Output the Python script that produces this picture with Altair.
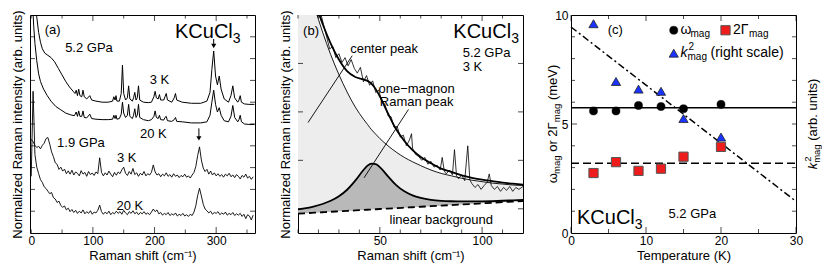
import altair as alt
import pandas as pd

FONT = "Liberation Sans"
W, H = 225, 218

# ---------------- panel (a): Raman spectra ----------------
a_grid = list(range(0, 361, 3))
a_19GPa_3K = [4.30, 4.18, 4.02, 3.92, 3.98, 3.86, 4.02, 4.12, 4.33, 4.38, 4.08, 3.72, 3.50, 3.22, 3.15, 2.92,
              3.02, 2.84, 2.93, 2.72, 2.85, 2.70, 2.88, 2.66, 2.80, 2.74, 2.62, 2.86, 2.70, 2.78, 2.60, 2.82,
              2.68, 2.75, 2.64, 2.80, 2.72, 3.45, 2.78, 2.62, 2.76, 2.66, 2.84, 2.70, 2.58, 2.78, 2.65, 2.80,
              2.72, 2.90, 3.02, 2.74, 2.64, 2.82, 2.70, 2.96, 2.68, 2.76, 2.60, 2.74, 2.66, 2.82, 2.62, 2.72,
              2.66, 2.78, 3.12, 2.80, 2.66, 2.72, 2.58, 2.70, 2.62, 2.76, 2.60, 2.68, 2.56, 2.72, 2.60, 2.66,
              2.54, 2.64, 2.58, 2.70, 2.56, 2.62, 2.52, 2.66, 2.78, 3.05, 3.55, 3.95, 3.35, 2.98, 2.82, 2.92,
              2.70, 2.84, 2.66, 2.76, 2.62, 2.72, 2.60, 2.68, 2.56, 2.70, 2.62, 2.74, 2.58, 2.66, 2.54, 2.68,
              2.60, 2.48, 2.64, 2.56, 2.70, 2.52, 2.60, 2.46, 2.58]
a_19GPa_20K = [2.60, 6.50, 3.60, 3.02, 2.72, 2.45, 2.32, 2.12, 2.04, 1.92, 1.80, 1.86, 1.62, 1.56, 1.40, 1.46,
               1.26, 1.18, 1.24, 1.06, 1.14, 0.98, 1.08, 0.94, 1.04, 0.90, 1.00, 0.92, 1.06, 0.88, 0.98, 0.90,
               1.02, 0.86, 0.96, 0.92, 1.04, 1.28, 0.98, 0.86, 0.96, 0.88, 1.00, 0.84, 0.94, 0.88, 1.00, 0.90,
               0.98, 0.86, 1.04, 0.92, 0.84, 0.98, 0.90, 1.02, 0.88, 0.96, 0.84, 0.94, 0.88, 0.98, 0.86, 0.92,
               0.84, 0.96, 1.10, 0.98, 1.06, 0.88, 0.94, 0.82, 0.90, 0.84, 0.94, 0.80, 0.88, 0.82, 0.92, 0.78,
               0.86, 0.80, 0.90, 0.78, 0.84, 0.76, 0.86, 0.80, 0.96, 1.25, 1.72, 2.05, 1.70, 1.32, 1.10, 1.02,
               0.92, 1.00, 0.86, 0.94, 0.90, 0.98, 0.84, 0.92, 0.86, 0.96, 0.82, 0.90, 0.84, 0.94, 0.80, 0.88,
               0.82, 0.90, 0.76, 0.86, 0.66, 0.84, 0.78, 0.60, 0.82]
a_52GPa_3K_x = [6, 9, 12, 15, 18, 22, 27, 32, 38, 44, 50, 56, 62, 68, 71, 73, 75, 77, 79, 82, 84, 86, 90, 95, 98,
                105, 115, 125, 132, 134, 136, 137.5, 139, 143, 146, 148, 150, 153, 156, 158, 160, 164, 166, 168,
                170, 172, 174, 176, 182, 190, 195, 199, 201, 203, 206, 208, 210, 215, 217, 219, 221, 228, 232,
                234, 236, 245, 260, 275, 285, 290, 293, 296, 299, 302, 305, 308, 313, 320, 324, 327, 330, 335,
                337, 339, 341, 346, 353, 362]
a_52GPa_3K = [10.6, 9.9, 9.2, 8.75, 8.45, 8.25, 8.15, 8.05, 7.85, 7.55, 7.25, 6.95, 6.7, 6.5, 6.4, 6.55, 6.3,
              6.6, 6.3, 6.25, 6.55, 6.25, 6.15, 6.3, 6.1, 6.05, 6.0, 6.0, 6.05, 6.25, 6.1, 6.3, 6.05, 6.05, 6.4,
              7.7, 6.4, 6.1, 6.2, 6.75, 6.15, 6.05, 6.2, 6.45, 6.1, 6.2, 6.75, 6.1, 6.0, 5.98, 6.0, 6.25, 6.5,
              6.2, 6.15, 6.35, 6.1, 6.1, 6.25, 6.4, 6.1, 6.0, 6.2, 6.4, 6.1, 6.0, 5.95, 5.95, 6.05, 6.45, 7.5,
              8.35, 7.2, 6.8, 7.2, 6.6, 6.15, 6.0, 6.3, 6.75, 6.2, 6.0, 6.1, 6.3, 6.0, 5.92, 5.9, 5.9]
a_52GPa_20K_x = [2, 4, 6, 9, 12, 15, 20, 26, 32, 40, 48, 56, 64, 70, 73, 75, 77, 79, 82, 84, 86, 90, 95, 98,
                 105, 115, 125, 132, 134, 136, 137.5, 139, 143, 146, 148, 150, 153, 156, 158, 160, 164, 166, 168,
                 170, 172, 174, 176, 182, 190, 195, 199, 201, 203, 206, 208, 210, 215, 217, 219, 221, 228, 232,
                 234, 236, 245, 260, 275, 285, 290, 293, 296, 299, 302, 305, 308, 313, 320, 324, 327, 330, 335,
                 337, 339, 341, 346, 353, 362]
a_52GPa_20K = [10.6, 9.5, 8.7, 7.9, 7.3, 6.95, 6.6, 6.3, 6.05, 5.8, 5.65, 5.5, 5.42, 5.38, 5.55, 5.35, 5.6,
               5.35, 5.35, 5.6, 5.3, 5.28, 5.45, 5.25, 5.22, 5.2, 5.2, 5.22, 5.4, 5.25, 5.4, 5.22, 5.25, 5.45,
               6.0, 5.5, 5.3, 5.4, 5.9, 5.35, 5.25, 5.4, 5.7, 5.3, 5.4, 5.9, 5.3, 5.2, 5.15, 5.2, 5.35, 5.6,
               5.3, 5.25, 5.4, 5.2, 5.18, 5.3, 5.35, 5.15, 5.12, 5.2, 5.3, 5.12, 5.1, 5.05, 5.05, 5.1, 5.4, 6.0,
               6.55, 5.9, 5.55, 5.75, 5.4, 5.15, 5.1, 5.35, 5.85, 5.3, 5.1, 5.2, 5.4, 5.1, 5.0, 4.98, 4.98]

# ---------------- panel (b): fit of the 5.2 GPa, 3 K spectrum ----------------
b_fit_x = [10, 14, 18, 22, 26, 30, 34, 38, 42, 44, 46, 48, 50, 54, 58, 62, 66, 70, 75, 80, 85, 90, 95, 100,
           105, 110, 115, 120]
b_background = [0.400, 0.409, 0.419, 0.428, 0.438, 0.447, 0.457, 0.466, 0.476, 0.480, 0.485, 0.490, 0.495,
                0.504, 0.513, 0.523, 0.532, 0.542, 0.553, 0.565, 0.577, 0.589, 0.600, 0.612, 0.624, 0.636,
                0.648, 0.660]
b_center_peak = [5.69, 5.20, 4.67, 4.15, 3.68, 3.27, 2.91, 2.60, 2.35, 2.24, 2.13, 2.04, 1.95, 1.80, 1.67,
                 1.56, 1.47, 1.39, 1.30, 1.23, 1.18, 1.13, 1.09, 1.06, 1.03, 1.01, 0.99, 0.98]
b_magnon_peak = [0.486, 0.515, 0.552, 0.599, 0.665, 0.758, 0.893, 1.08, 1.30, 1.39, 1.43, 1.42, 1.36, 1.17,
                 0.988, 0.860, 0.777, 0.726, 0.686, 0.665, 0.655, 0.651, 0.651, 0.654, 0.659, 0.666, 0.674,
                 0.683]
b_total_fit = [5.78, 5.30, 4.80, 4.32, 3.91, 3.58, 3.34, 3.22, 3.17, 3.14, 3.08, 2.97, 2.82, 2.47, 2.14, 1.90,
               1.71, 1.57, 1.44, 1.33, 1.26, 1.19, 1.14, 1.10, 1.07, 1.04, 1.02, 1.00]
b_data_x = [21, 22.5, 24, 25.5, 27, 28.5, 30, 31.5, 33, 34.5, 36, 37.5, 39, 40.5, 42, 43.5, 45, 46.5, 48, 49.5,
            51, 52.5, 54, 55.5, 57, 58.5, 60, 61.5, 63, 64.5, 65.5, 66, 67.5, 69, 70.5, 72, 73.5, 75, 76.5, 78,
            79.5, 80.5, 81.5, 82.5, 84, 85.5, 86.5, 87.5, 88.5, 90, 91.5, 93, 94, 95, 96.5, 98, 99.5, 101,
            102.5, 103.5, 104.5, 106, 107.5, 109, 110.5, 112, 113.5, 115, 116.5, 118, 120]
b_data_y = [4.55, 4.30, 4.05, 3.80, 3.85, 3.62, 3.70, 3.52, 3.62, 3.45, 3.58, 3.40, 3.30, 3.42, 3.12, 3.25,
            3.05, 3.14, 2.90, 2.95, 2.70, 2.66, 2.42, 2.40, 2.18, 2.20, 1.98, 2.02, 1.80, 1.92, 2.05, 1.75,
            1.62, 1.58, 1.50, 1.56, 1.42, 1.48, 1.36, 1.40, 1.30, 1.56, 1.28, 1.22, 1.30, 1.20, 1.72, 1.18,
            1.12, 1.20, 1.08, 1.80, 1.10, 1.02, 0.94, 1.00, 0.90, 0.98, 1.05, 1.22, 0.98, 0.90, 0.96, 0.86,
            0.94, 0.88, 0.96, 0.86, 0.94, 0.90, 0.96]

# ---------------- panel (c): temperature dependence ----------------
c_temperature = [3, 6, 9, 12, 15, 20]
c_omega_mag = [5.6, 5.6, 5.85, 5.8, 5.7, 5.9]
c_2gamma_mag = [2.75, 3.25, 2.85, 2.95, 3.5, 3.95]
c_k2_mag = [9.6, 6.95, 6.6, 6.5, 5.25, 4.4]
c_line_T = [0, 30]
c_omega_fit = [5.75, 5.75]
c_gamma_fit = [3.2, 3.2]
c_k2_fit = [9.45, 1.45]

# ---------------- helpers ----------------
CW = {'ω': 0.72, 'm': 0.833, 'a': 0.556, 'g': 0.556, 'o': 0.556, 'r': 0.333, '2': 0.556, 'Γ': 0.556,
      '(': 0.333, ')': 0.333, 'e': 0.556, 'V': 0.667, 'k': 0.5, 'b': 0.556, '.': 0.278, 'u': 0.556,
      'n': 0.556, 'i': 0.222, 't': 0.278, 's': 0.5, ' ': 0.278, 'K': 0.667, 'C': 0.722, 'l': 0.222}


def tw(s, size):
    return sum(CW.get(ch, 0.556) for ch in s) * size


class Panel:
    def __init__(self, xdom, ydom, xaxis, yaxis):
        self.xs = alt.Scale(domain=xdom, nice=False, zero=False)
        self.ys = alt.Scale(domain=ydom, nice=False, zero=False)
        self.xa = xaxis
        self.ya = yaxis

    def X(self, f):
        return alt.X(f, scale=self.xs, axis=self.xa)

    def Y(self, f):
        return alt.Y(f, scale=self.ys, axis=self.ya)

    def line(self, xs_, ys_, **kw):
        df = pd.DataFrame({"x": xs_, "y": ys_})
        return alt.Chart(df).mark_line(clip=True, color="black", **kw).encode(x=self.X("x:Q"), y=self.Y("y:Q"))

    def label(self, x, y, text, size=13, align="left", baseline="middle", dx=0, dy=0, italic=False):
        df = pd.DataFrame({"x": [x], "y": [y], "t": [text]})
        return alt.Chart(df).mark_text(font=FONT, fontSize=size, align=align, baseline=baseline, dx=dx, dy=dy,
                                       fontStyle="italic" if italic else "normal", color="black").encode(
            x=self.X("x:Q"), y=self.Y("y:Q"), text="t:N")

    def xticks(self, vals, length):
        df = pd.DataFrame({"v": vals})
        base = alt.Chart(df).mark_tick(orient="vertical", size=length, thickness=1, color="black")
        return [base.encode(x=self.X("v:Q"), y=alt.value(H - length / 2)),
                base.encode(x=self.X("v:Q"), y=alt.value(length / 2))]

    def yticks(self, vals, length, left=True, right=True):
        df = pd.DataFrame({"v": vals})
        base = alt.Chart(df).mark_tick(orient="horizontal", size=length, thickness=1, color="black")
        out = []
        if left:
            out.append(base.encode(y=self.Y("v:Q"), x=alt.value(length / 2)))
        if right:
            out.append(base.encode(y=self.Y("v:Q"), x=alt.value(W - length / 2)))
        return out

    def seg(self, x, y, x2, y2, width=1):
        df = pd.DataFrame({"x": [x], "y": [y], "x2": [x2], "y2": [y2]})
        return alt.Chart(df).mark_rule(color="black", strokeWidth=width).encode(
            x=self.X("x:Q"), y=self.Y("y:Q"), x2="x2:Q", y2="y2:Q")

    def arrow_head(self, x, y):
        df = pd.DataFrame({"x": [x], "y": [y]})
        return alt.Chart(df).mark_point(shape="triangle-down", filled=True, size=26, color="black",
                                        opacity=1).encode(x=self.X("x:Q"), y=self.Y("y:Q"))


def ptext(px, py, text, size=13, angle=0, italic=False, align="left", baseline="middle"):
    df = pd.DataFrame({"t": [text]})
    return alt.Chart(df).mark_text(font=FONT, fontSize=size, angle=angle, align=align, baseline=baseline,
                                   fontStyle="italic" if italic else "normal", color="black").encode(
        x=alt.value(px), y=alt.value(py), text="t:N")


YTITLE = "Normalized Raman intensity (arb. units)"
XTITLE = "Raman shift (cm⁻¹)"


def xaxis(vals, title):
    return alt.Axis(values=vals, title=title, labelFlush=False, labelPadding=2, titlePadding=3)


# ---------------- build panel (a) ----------------
pa = Panel([-2, 363], [0, 10], xaxis([0, 100, 200, 300], XTITLE),
           alt.Axis(labels=False, title=YTITLE, titlePadding=6))
a_layers = [pa.line(a_grid, a_19GPa_3K, strokeWidth=0.9),
            pa.line(a_grid, a_19GPa_20K, strokeWidth=0.9),
            pa.line(a_52GPa_3K_x, a_52GPa_3K, strokeWidth=1),
            pa.line(a_52GPa_20K_x, a_52GPa_20K, strokeWidth=1),
            pa.seg(296, 8.9, 296, 8.62), pa.arrow_head(296, 8.58),
            pa.seg(272, 4.8, 272, 4.38), pa.arrow_head(272, 4.34),
            pa.label(22, 9.3, "(a)"),
            pa.label(327, 8.95, "KCuCl", size=20, align="right", baseline="alphabetic"),
            pa.label(327, 8.95, "3", size=14, align="left", baseline="alphabetic", dy=5),
            pa.label(55, 8.5, "5.2 GPa"),
            pa.label(208, 7.0, "3 K", align="center"),
            pa.label(198, 4.55, "20 K", align="center"),
            pa.label(42, 4.15, "1.9 GPa"),
            pa.label(155, 3.45, "3 K", align="center"),
            pa.label(160, 1.25, "20 K", align="center")]
a_layers += pa.xticks([100, 200, 300], 6) + pa.xticks([0, 50, 150, 250, 350], 3.5)
a_layers += pa.yticks(list(range(1, 10)), 5)
panel_a = alt.layer(*a_layers).properties(width=W, height=H)

# ---------------- build panel (b) ----------------
pb = Panel([10, 120], [0, 4.5], xaxis([50, 100], XTITLE),
           alt.Axis(labels=False, title=YTITLE, titlePadding=6))
b_fit = pd.DataFrame({"x": b_fit_x, "bg": b_background, "cen": b_center_peak, "mag": b_magnon_peak,
                      "tot": b_total_fit})
b_light = alt.Chart(b_fit).mark_area(clip=True, color="#ededed", interpolate="monotone").encode(
    x=pb.X("x:Q"), y=pb.Y("cen:Q"), y2="bg:Q")
b_dark = alt.Chart(b_fit).mark_area(clip=True, color="#b9b9b9", interpolate="monotone").encode(
    x=pb.X("x:Q"), y=pb.Y("mag:Q"), y2="bg:Q")


def bcurve(field, **kw):
    return alt.Chart(b_fit).mark_line(clip=True, color="black", interpolate="monotone", **kw).encode(
        x=pb.X("x:Q"), y=pb.Y(field + ":Q"))


b_layers = [b_light, b_dark,
            bcurve("bg", strokeWidth=1.8, strokeDash=[7, 4]),
            bcurve("mag", strokeWidth=1.8),
            bcurve("cen", strokeWidth=0.9),
            pb.line(b_data_x, b_data_y, strokeWidth=0.8),
            bcurve("tot", strokeWidth=1.8),
            pb.seg(14.9, 2.28, 36.5, 3.66, 0.9),
            pb.seg(64, 2.55, 42.3, 1.14, 0.9),
            pb.label(12.5, 4.18, "(b)"),
            pb.label(114.2, 4.02, "KCuCl", size=20, align="right", baseline="alphabetic"),
            pb.label(114.2, 4.02, "3", size=14, align="left", baseline="alphabetic", dy=5),
            pb.label(90.5, 3.72, "5.2 GPa"),
            pb.label(90.5, 3.42, "3 K"),
            pb.label(35.5, 3.8, "center peak"),
            pb.label(68, 2.98, "one−magnon", align="center"),
            pb.label(68, 2.70, "Raman peak", align="center"),
            pb.label(80, 0.26, "linear background", align="center")]
b_layers += pb.xticks([50, 100], 6) + pb.xticks([10, 20, 30, 40, 60, 70, 80, 90, 110], 3.5)
b_layers += pb.yticks([0.5, 1.5, 2.5, 3.5], 5)
panel_b = alt.layer(*b_layers).properties(width=W, height=H)

# ---------------- build panel (c) ----------------
pc = Panel([0, 30], [0, 10], xaxis([0, 10, 20, 30], "Temperature (K)"),
           alt.Axis(values=[0, 5, 10], title=None, labelPadding=3))
c_df = pd.DataFrame({"T": c_temperature, "w": c_omega_mag, "g": c_2gamma_mag, "k": c_k2_mag})
c_fit = pd.DataFrame({"T": c_line_T, "w": c_omega_fit, "g": c_gamma_fit, "k": c_k2_fit})
c_wline = alt.Chart(c_fit).mark_line(color="black", strokeWidth=1.5).encode(x=pc.X("T:Q"), y=pc.Y("w:Q"))
c_gline = alt.Chart(c_fit).mark_line(color="black", strokeWidth=1.5, strokeDash=[8, 4]).encode(
    x=pc.X("T:Q"), y=pc.Y("g:Q"))
c_kline = alt.Chart(c_fit).mark_line(color="black", strokeWidth=1.5, strokeDash=[7, 3, 2, 3]).encode(
    x=pc.X("T:Q"), y=pc.Y("k:Q"))


def cpoints(df, field, shape, fill, stroke, size, sw):
    return alt.Chart(df).mark_point(shape=shape, filled=True, fill=fill, stroke=stroke, strokeWidth=sw,
                                    size=size, opacity=1).encode(x=pc.X("T:Q"), y=pc.Y(field + ":Q"))


leg = pd.DataFrame({"T": [13.7, 20.6, 13.7], "y": [9.3, 9.3, 8.25]})
c_layers = [c_wline, c_gline, c_kline,
            cpoints(c_df, "k", "triangle-up", "#1a33ff", "#222222", 85, 0.8),
            cpoints(c_df, "w", "circle", "black", "black", 65, 0.5),
            cpoints(c_df, "g", "square", "#ee1c1c", "#555555", 85, 1),
            cpoints(leg.iloc[[0]], "y", "circle", "black", "black", 65, 0.5),
            cpoints(leg.iloc[[1]], "y", "square", "#ee1c1c", "#555555", 85, 1),
            cpoints(leg.iloc[[2]], "y", "triangle-up", "#1a33ff", "#222222", 85, 0.8),
            pc.label(14.6, 9.3, "ω", size=14),
            pc.label(14.6, 9.3, "mag", size=10, dx=10, dy=4),
            pc.label(21.6, 9.3, "2Γ", size=14),
            pc.label(21.6, 9.3, "mag", size=10, dx=16, dy=4),
            pc.label(14.6, 8.25, "k", size=14, italic=True),
            pc.label(14.6, 8.25, "mag", size=10, dx=7, dy=4),
            pc.label(14.6, 8.25, "2", size=10, dx=8, dy=-6),
            pc.label(14.6, 8.25, "(right scale)", size=14, dx=30),
            pc.label(5.9, 9.3, "(c)", align="center"),
            pc.label(0.8, 0.42, "KCuCl", size=20, baseline="alphabetic"),
            pc.label(0.8, 0.42, "3", size=14, baseline="alphabetic", dx=tw("KCuCl", 20), dy=5),
            pc.label(13.0, 0.85, "5.2 GPa")]
c_layers += pc.xticks([0, 10, 20, 30], 6) + pc.xticks([5, 15, 25], 4)
c_layers += pc.yticks([5], 6, right=False) + pc.yticks([1, 2, 3, 4, 6, 7, 8, 9], 4, right=False)
c_layers += pc.yticks(list(range(1, 10)), 4, left=False)

# rotated left title: "ω_mag or 2Γ_mag (meV)"
left_pieces = [("ω", 13, 0, 0), ("mag", 9.5, 4, 3.6), ("or 2Γ", 13, 0, 0), ("mag", 9.5, 4, 3.6), ("(meV)", 13, 0, 0)]
total = sum(tw(t, s) + g for t, s, _, g in left_pieces)
cur = H / 2 + total / 2
for t, s, shift, gap in left_pieces:
    c_layers.append(ptext(-18 + shift, cur, t, size=s, angle=270))
    cur -= tw(t, s) + gap

# rotated right title: "k_mag^2 (arb. units)"
kw_ = tw("k", 13)
mw_ = tw("mag", 9.5)
rtot = kw_ + mw_ + 3.6 + tw("(arb. units)", 13)
r0 = H / 2 + rtot / 2
c_layers.append(ptext(W + 17, r0, "k", size=13, angle=270, italic=True))
c_layers.append(ptext(W + 21, r0 - kw_, "mag", size=9.5, angle=270))
c_layers.append(ptext(W + 12, r0 - kw_ - 1, "2", size=9.5, angle=270))
c_layers.append(ptext(W + 17, r0 - kw_ - mw_ - 3.6, "(arb. units)", size=13, angle=270))

panel_c = alt.layer(*c_layers).properties(width=W, height=H)

chart = alt.hconcat(panel_a, panel_b, panel_c, spacing=22).properties(
    padding={"left": 2, "top": 0, "right": 0, "bottom": 0}
).configure_view(stroke="black", strokeWidth=1).configure_axis(
    grid=False, domain=False, ticks=False, labelFont=FONT, titleFont=FONT, labelFontSize=12, titleFontSize=13,
    titleFontWeight="normal", labelColor="black", titleColor="black")

chart.save("out.html", embed_options={"renderer": "svg", "actions": False})
